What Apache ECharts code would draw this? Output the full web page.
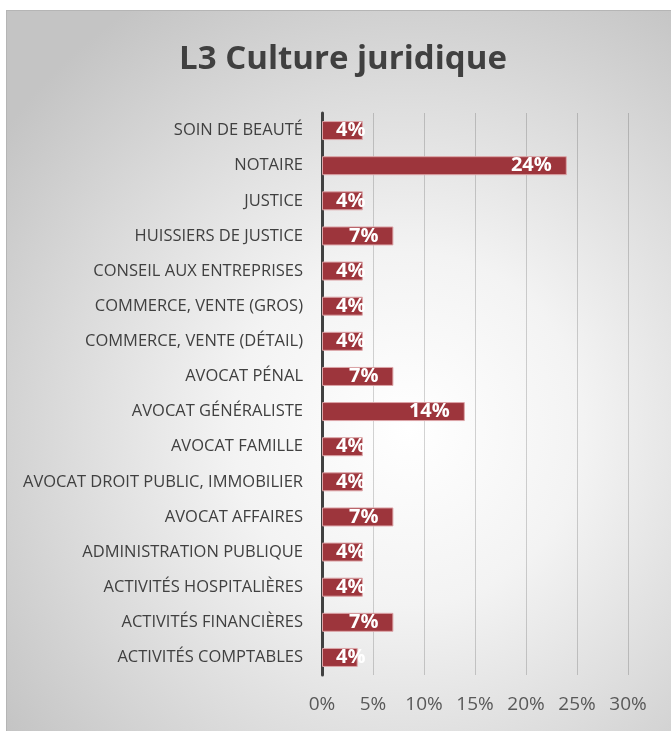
<!DOCTYPE html>
<html>
<head>
<meta charset="utf-8">
<script src="https://cdn.jsdelivr.net/npm/echarts@6/dist/echarts.min.js"></script>
<style>
html,body{margin:0;padding:0;background:#fff;width:671px;height:731px;overflow:hidden;}
#box{position:absolute;left:6px;top:10px;width:670px;height:721px;
 background:radial-gradient(ellipse 75% 70% at 60% 58%, #ffffff 0%, #f3f3f3 35%, #dadada 70%, #c4c4c4 100%);
 border-left:1px solid #b5b5b5;border-top:1px solid #b5b5b5;box-sizing:border-box;}
#chart{width:100%;height:100%;}
</style>
</head>
<body>
<div id="box"><div id="chart"></div></div>
<script>
var titleText = 'L3 Culture juridique';
var categories = ['SOIN DE BEAUTÉ','NOTAIRE','JUSTICE','HUISSIERS DE JUSTICE','CONSEIL AUX ENTREPRISES','COMMERCE, VENTE (GROS)','COMMERCE, VENTE (DÉTAIL)','AVOCAT PÉNAL','AVOCAT GÉNÉRALISTE','AVOCAT FAMILLE','AVOCAT DROIT PUBLIC, IMMOBILIER','AVOCAT AFFAIRES','ADMINISTRATION PUBLIQUE','ACTIVITÉS HOSPITALIÈRES','ACTIVITÉS FINANCIÈRES','ACTIVITÉS COMPTABLES'];
var values = [4,24,4,7,4,4,4,7,14,4,4,7,4,4,7,3.5];
var xTicks = [0,5,10,15,20,25,30];

var font = '"Open Sans", "Noto Sans", sans-serif';
var data = values.map(function(v){
  var small = v < 5;
  return {value: v, label: {position: small ? 'insideLeft' : 'insideRight', distance: small ? 14 : 15}};
});
var chart = echarts.init(document.getElementById('chart'), null, {renderer:'canvas'});
chart.setOption({
  animation:false,
  backgroundColor:'transparent',
  title:{text:titleText,left:331,top:27,textAlign:'center',
    textStyle:{fontFamily:font,fontSize:33,fontWeight:'bold',color:'#404040'}},
  grid:{left:315,right:48,top:102,bottom:56,containLabel:false},
  xAxis:{type:'value',min:xTicks[0],max:xTicks[xTicks.length-1],interval:5,
    axisLine:{show:false},axisTick:{show:false},
    splitLine:{lineStyle:{color:'rgba(0,0,0,0.17)',width:1}},
    axisLabel:{formatter:'{value}%',fontFamily:font,fontSize:19,color:'#595959',margin:20}},
  yAxis:{type:'category',data:categories,inverse:true,
    axisLine:{lineStyle:{color:'#404040',width:3}},axisTick:{show:false},
    axisLabel:{fontFamily:font,fontSize:16.5,color:'#404040',margin:19}},
  series:[{type:'bar',data:data,barWidth:19,
    itemStyle:{color:'#9d353c',borderColor:'#dca5a8',borderWidth:1},
    label:{show:true,formatter:function(p){return Math.round(p.value)+'%';},
      color:'#fff',fontFamily:font,fontWeight:'bold',fontSize:20,
      textBorderWidth:0,textBorderColor:'transparent',textShadowBlur:0}}]
});
</script>
</body>
</html>
